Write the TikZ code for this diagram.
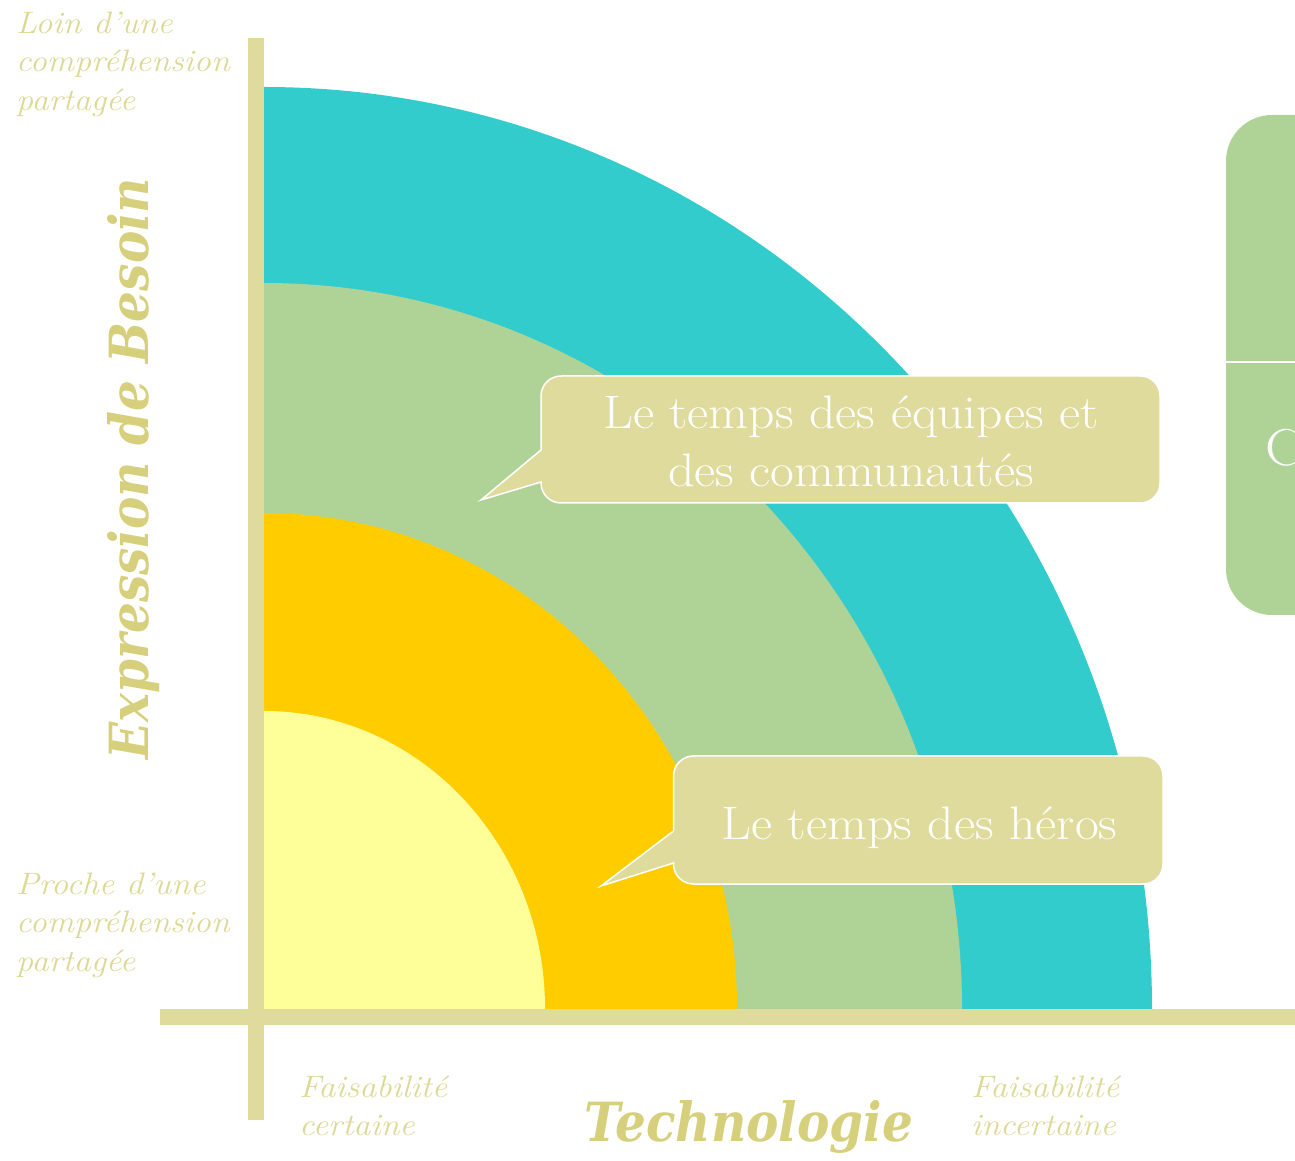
\documentclass[tikz,border=0pt]{standalone}
\usepackage{fontspec}
\usepackage{tikz}

\newfontfamily\titlefont[FakeStretch=0.9]{DejaVu Serif}
\newfontfamily\widefont[FakeStretch=1.1]{Latin Modern Roman}

\definecolor{axiscol}{HTML}{DFDB9C}
\definecolor{titlecol}{HTML}{D6CF7C}
\definecolor{labelcol}{HTML}{DDD894}
\definecolor{zonecyan}{HTML}{33CCCC}
\definecolor{zonegreen}{HTML}{AFD396}
\definecolor{zoneorange}{HTML}{FFCC00}
\definecolor{zonepale}{HTML}{FFFF99}

\begin{document}
\begin{tikzpicture}[x=1pt,y=1pt,
    axisbar/.style={draw=axiscol,line width=16pt},
    bubble/.style={fill=axiscol,draw=white,line width=1.5pt},
    bubbletext/.style={text=white,inner sep=0pt,align=center,font=\widefont\fontsize{47}{58}\selectfont},
    hint/.style={text=labelcol,inner sep=0pt,align=left,font=\widefont\fontsize{31}{38.5}\selectfont\itshape},
    axistitle/.style={text=titlecol,inner sep=0pt,font=\titlefont\bfseries\itshape\fontsize{54}{60}\selectfont}]

    \useasboundingbox (0,0) rectangle (1295,1160);

    % Corner of the two axes
    \coordinate (O) at (264,151);

    % Zones (quarter ellipses, largest first)
    \foreach \rx/\ry/\col in {888/922/zonecyan, 698/726/zonegreen, 473/496/zoneorange, 281/298/zonepale}
        \fill[\col] (O) -- ++(\rx,0) arc[start angle=0,end angle=90,x radius=\rx,y radius=\ry] -- cycle;

    % Axes
    \draw[axisbar] (160,143) -- (1300,143);
    \draw[axisbar] (256,40) -- (256,1122);

    % Box cut by the right edge
    \fill[zonegreen,rounded corners=46pt] (1226,545) rectangle (1420,1045);
    \draw[white,line width=2.5pt] (1226,798) -- (1300,798);
    \node[text=white,inner sep=0pt,anchor=base west,font=\widefont\fontsize{52}{60}\selectfont] (side) at (1265,694) {C};

    % Callouts
    \coordinate (tipA) at (481,660);
    \draw[bubble] (541,710) [rounded corners=20pt] -- (541,784) -- (1160,784) -- (1160,657) -- (541,657) [sharp corners] -- (541,678) -- (tipA) -- cycle;
    \node[bubbletext] (equipes) at (851,718.5) {Le temps des équipes et\\des communautés};

    \coordinate (tipB) at (601,274);
    \draw[bubble] (673.5,329) [rounded corners=20pt] -- (673.5,404) -- (1163,404) -- (1163,276) -- (673.5,276) [sharp corners] -- (673.5,297) -- (tipB) -- cycle;
    \node[bubbletext,anchor=base] (heros) at (919.5,321) {Le temps des héros};

    % Axis hints
    \node[hint,anchor=north west] (far) at (16,1148.5) {Loin d’une\\compréhension\\partagée};
    \node[hint,anchor=north west] (near) at (16,287.5) {Proche d’une\\compréhension\\partagée};
    \node[hint,anchor=north west] (sure) at (299,84.5) {Faisabilité\\certaine};
    \node[hint,anchor=north west] (unsure) at (971,84.5) {Faisabilité\\incertaine};

    % Axis titles
    \node[axistitle,anchor=base] (techno) at (749,19) {Technologie};
    \node[axistitle,rotate=90,anchor=base] (besoin) at (148,691.5) {Expression de Besoin};

\end{tikzpicture}
\end{document}
